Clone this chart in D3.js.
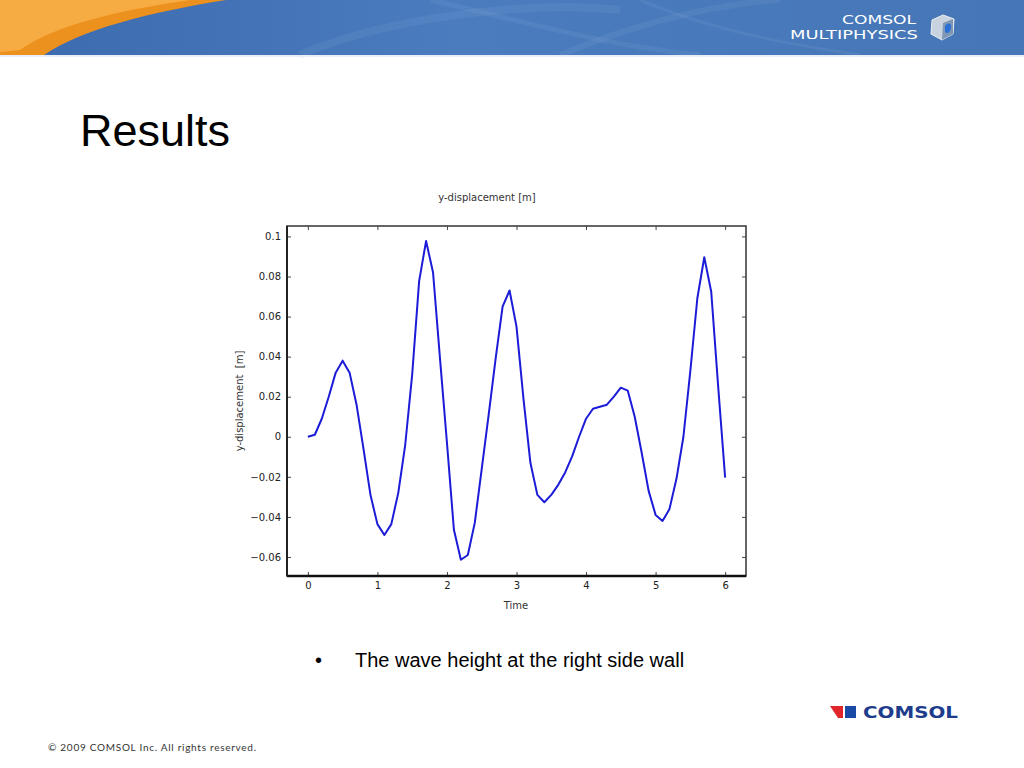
<!DOCTYPE html>
<html>
<head>
<meta charset="utf-8">
<script src="https://cdn.jsdelivr.net/npm/d3@7"></script>
<style>
  html, body { margin: 0; padding: 0; background: #fff; }
  svg { display: block; }
</style>
</head>
<body>
<div id="chart"></div>
<script>
// sample times and y-displacement
const times = [
  0.0, 0.1, 0.2, 0.3, 0.4, 0.5, 0.6, 0.7, 0.8, 0.9,
  1.0, 1.1, 1.2, 1.3, 1.4, 1.5, 1.6, 1.7, 1.8, 1.9,
  2.0, 2.1, 2.2, 2.3, 2.4, 2.5, 2.6, 2.7, 2.8, 2.9,
  3.0, 3.1, 3.2, 3.3, 3.4, 3.5, 3.6, 3.7, 3.8, 3.9,
  4.0, 4.1, 4.2, 4.3, 4.4, 4.5, 4.6, 4.7, 4.8, 4.9,
  5.0, 5.1, 5.2, 5.3, 5.4, 5.5, 5.6, 5.7, 5.8, 5.9,
  6.0
];
const displacement = [
  0.000, 0.001, 0.009, 0.020, 0.032, 0.038, 0.032, 0.016, -0.006, -0.029,
  -0.0436, -0.049, -0.0436, -0.028, -0.004, 0.031, 0.0777, 0.0977, 0.082, 0.039,
  -0.003, -0.0464, -0.0614, -0.059, -0.043, -0.016, 0.011, 0.039, 0.065, 0.073,
  0.055, 0.019, -0.013, -0.029, -0.0327, -0.029, -0.024, -0.0178, -0.0098, 0.000,
  0.009, 0.014, 0.015, 0.016, 0.020, 0.0245, 0.023, 0.010, -0.008, -0.027,
  -0.039, -0.042, -0.036, -0.021, 0.000, 0.033, 0.069, 0.0896, 0.0724, 0.025,
  -0.0204
];
const xTicks = [0, 1, 2, 3, 4, 5, 6];
const yTicks = [-0.06, -0.04, -0.02, 0, 0.02, 0.04, 0.06, 0.08, 0.1];

const W = 1024, H = 768;
const svg = d3.select("#chart").append("svg")
  .attr("width", W)
  .attr("height", H)
  .attr("viewBox", `0 0 ${W} ${H}`);

// ---- header banner ----
const defs = svg.append("defs");
const bg = defs.append("linearGradient").attr("id", "hdr").attr("x1", 0).attr("x2", 1);
bg.append("stop").attr("offset", "0%").attr("stop-color", "#3c6aae");
bg.append("stop").attr("offset", "45%").attr("stop-color", "#4a7cbe");
bg.append("stop").attr("offset", "100%").attr("stop-color", "#4676b6");

svg.append("rect").attr("x", 0).attr("y", 0).attr("width", W).attr("height", 55).attr("fill", "url(#hdr)");

// faint swirls
const swirl = svg.append("g").attr("fill", "none").attr("stroke", "#8fb0dc").attr("stroke-opacity", 0.14);
swirl.append("path").attr("d", "M300,55 C380,20 520,0 620,10").attr("stroke-width", 8);
swirl.append("path").attr("d", "M430,0 C520,20 600,45 700,55").attr("stroke-width", 5);
swirl.append("path").attr("d", "M560,55 C620,30 700,5 780,0").attr("stroke-width", 6);
swirl.append("path").attr("d", "M640,0 C700,25 760,40 860,55").attr("stroke-width", 3);

// orange swoosh
svg.append("path")
  .attr("d", "M0,0 L226,0 C150,12 80,30 44,55 L0,55 Z")
  .attr("fill", "#ec901e");
svg.append("path")
  .attr("d", "M0,0 L190,0 C120,10 55,25 20,50 L0,52 Z")
  .attr("fill", "#f6ac42");
svg.append("rect").attr("x", 0).attr("y", 55).attr("width", W).attr("height", 2).attr("fill", "#e8eef7");

// COMSOL MULTIPHYSICS mark
const logo = svg.append("g").attr("fill", "#ffffff").attr("font-family", "DejaVu Sans, sans-serif");
logo.append("text").attr("x", 842).attr("y", 24).attr("font-size", 13)
  .attr("textLength", 74).attr("lengthAdjust", "spacingAndGlyphs")
  .text("COMSOL");
logo.append("text").attr("x", 790).attr("y", 39).attr("font-size", 13)
  .attr("textLength", 128).attr("lengthAdjust", "spacingAndGlyphs")
  .text("MULTIPHYSICS");
const cube = svg.append("g").attr("transform", "translate(929,14)");
cube.append("path").attr("d", "M3,6 L14,1 L25,5 L24,20 L13,26 L2,20 Z").attr("fill", "#c9d3df").attr("stroke", "#e9eef4");
cube.append("path").attr("d", "M14,9 L24,5 L24,20 L13,26 Z").attr("fill", "#7e97b4");
cube.append("path").attr("d", "M16,12 C19,8 23,9 22,14 C21,19 17,21 16,17 Z").attr("fill", "#2a6fd6");

// ---- slide title ----
svg.append("text")
  .attr("x", 80).attr("y", 146)
  .attr("font-family", "Liberation Sans, Arial, sans-serif")
  .attr("font-size", 45)
  .attr("fill", "#000")
  .text("Results");

// ---- chart ----
const plot = { left: 287, right: 746, top: 226, bottom: 576 };
const x = d3.scaleLinear().domain([-0.3, 6.3]).range([plot.left, plot.right]);
const y = d3.scaleLinear().domain([-0.0695, 0.1052]).range([plot.bottom, plot.top]);

const chart = svg.append("g")
  .attr("font-family", "DejaVu Sans, sans-serif");

chart.append("rect")
  .attr("x", plot.left).attr("y", plot.top)
  .attr("width", plot.right - plot.left).attr("height", plot.bottom - plot.top)
  .attr("fill", "#fff").attr("stroke", "#333").attr("stroke-width", 1.5);

const styleAxis = g => {
  g.select(".domain").remove();
  g.selectAll(".tick line").attr("stroke", "#444");
  g.selectAll(".tick text").attr("fill", "#222").attr("font-size", 10).attr("font-family", "DejaVu Sans, sans-serif");
};

chart.append("g")
  .attr("transform", `translate(${plot.left},0)`)
  .call(d3.axisLeft(y).tickValues(yTicks).tickSize(-4).tickPadding(6).tickFormat(d3.format("")))
  .call(styleAxis);

chart.append("g")
  .attr("transform", `translate(${plot.right},0)`)
  .call(d3.axisRight(y).tickValues(yTicks).tickSize(-4).tickFormat(""))
  .call(styleAxis);

chart.append("g")
  .attr("transform", `translate(0,${plot.bottom})`)
  .call(d3.axisBottom(x).tickValues(xTicks).tickSize(-4).tickPadding(6).tickFormat(d3.format("d")))
  .call(styleAxis);

chart.append("g")
  .attr("transform", `translate(0,${plot.top})`)
  .call(d3.axisTop(x).tickValues(xTicks).tickSize(-4).tickFormat(""))
  .call(styleAxis);

// heavier left and bottom frame
chart.append("line").attr("x1", plot.left).attr("x2", plot.right).attr("y1", plot.bottom).attr("y2", plot.bottom)
  .attr("stroke", "#111").attr("stroke-width", 2.5);
chart.append("line").attr("x1", plot.left).attr("x2", plot.left).attr("y1", plot.top).attr("y2", plot.bottom)
  .attr("stroke", "#222").attr("stroke-width", 2);

const series = times.map((t, i) => ({ t, v: displacement[i] }));
chart.append("path")
  .datum(series)
  .attr("fill", "none")
  .attr("stroke", "#1c1cd8")
  .attr("stroke-width", 2)
  .attr("stroke-linejoin", "round")
  .attr("d", d3.line().x(d => x(d.t)).y(d => y(d.v)));

chart.append("text")
  .attr("x", 487).attr("y", 201)
  .attr("text-anchor", "middle")
  .attr("font-size", 10).attr("fill", "#333")
  .text("y-displacement [m]");

chart.append("text")
  .attr("transform", `translate(243,${(plot.top + plot.bottom) / 2 + 0}) rotate(-90)`)
  .attr("text-anchor", "middle")
  .attr("font-size", 10).attr("fill", "#333")
  .attr("xml:space", "preserve")
  .text("y-displacement  [m]");

chart.append("text")
  .attr("x", 516).attr("y", 609)
  .attr("text-anchor", "middle")
  .attr("font-size", 10).attr("fill", "#333")
  .text("Time");

// ---- bullet ----
const bullet = svg.append("g")
  .attr("font-family", "Liberation Sans, Arial, sans-serif")
  .attr("font-size", 20).attr("fill", "#000");
bullet.append("text").attr("x", 315).attr("y", 667).text("\u2022");
bullet.append("text").attr("x", 355).attr("y", 667).text("The wave height at the right side wall");

// ---- bottom COMSOL logo ----
svg.append("path").attr("d", "M830,706 L843,706 L843,718 L838,718 Z").attr("fill", "#e0262b");
svg.append("rect").attr("x", 845).attr("y", 706).attr("width", 11).attr("height", 12).attr("fill", "#1b4aa6");
svg.append("text")
  .attr("x", 863).attr("y", 718)
  .attr("font-family", "DejaVu Sans, sans-serif")
  .attr("font-size", 15)
  .attr("font-weight", "bold")
  .attr("fill", "#1e3c8c")
  .attr("textLength", 95).attr("lengthAdjust", "spacingAndGlyphs")
  .text("COMSOL");

// ---- footer ----
svg.append("text")
  .attr("x", 48).attr("y", 751)
  .attr("font-family", "Lato, sans-serif")
  .attr("font-size", 10)
  .attr("fill", "#333")
  .attr("textLength", 208).attr("lengthAdjust", "spacing")
  .text("\u00a9 2009 COMSOL Inc. All rights reserved.");
</script>
</body>
</html>
